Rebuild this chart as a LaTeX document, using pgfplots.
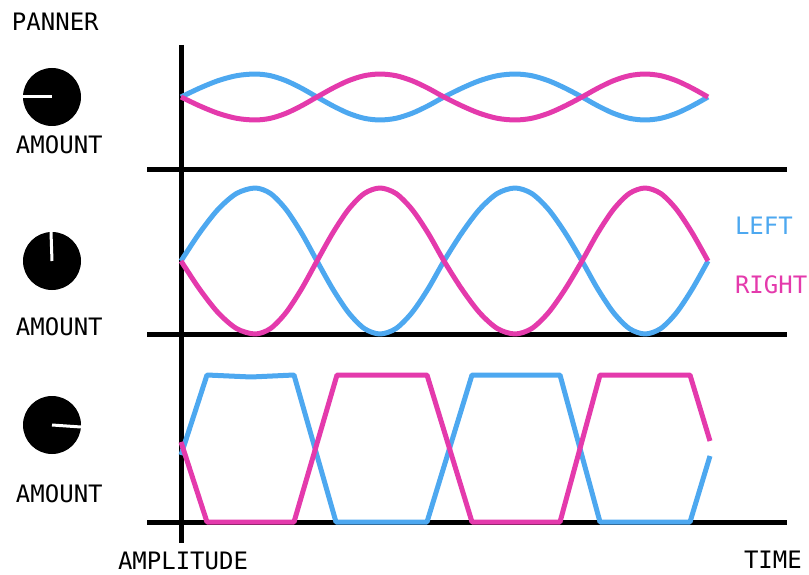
\documentclass[border=0pt]{standalone}
\usepackage{fontspec}
\setmainfont{DejaVu Sans Mono}
\usepackage{pgfplots}
\usepackage{pgfplotstable}
\pgfplotsset{compat=1.18}
\definecolor{lblue}{RGB}{77,168,240}
\definecolor{rpink}{RGB}{228,58,172}

\pgfplotstableread{
x b1 p1 b2 p2
181 97 97 261 261
199.5 88.2 105.8 233.0 289.0
218 80.7 113.3 209.4 312.6
236.5 75.7 118.3 193.5 328.5
255 74 120 188 334
270.5 75.7 118.3 193.5 328.5
286 80.7 113.3 209.4 312.6
301.5 88.2 105.8 233.0 289.0
317 97 97 261 261
332.75 105.8 88.2 289.0 233.0
348.5 113.3 80.7 312.6 209.4
364.25 118.3 75.7 328.5 193.5
380 120 74 334 188
396 118.3 75.7 328.5 193.5
412 113.3 80.7 312.6 209.4
428 105.8 88.2 289.0 233.0
444 97 97 261 261
461.75 88.2 105.8 233.0 289.0
479.5 80.7 113.3 209.4 312.6
497.25 75.7 118.3 193.5 328.5
515 74 120 188 334
531.75 75.7 118.3 193.5 328.5
548.5 80.7 113.3 209.4 312.6
565.25 88.2 105.8 233.0 289.0
582 97 97 261 261
597.75 105.8 88.2 289.0 233.0
613.5 113.3 80.7 312.6 209.4
629.25 118.3 75.7 328.5 193.5
645 120 74 334 188
660.75 118.3 75.7 328.5 193.5
676.5 113.3 80.7 312.6 209.4
692.25 105.8 88.2 289.0 233.0
708 97 97 261 261
}\waves

\pgfplotstableread{
x y
181 455
207 375
251 377
294 375
336 522
427 522
472 375
560 375
600 522
690 522
710 456
}\clipblue

\pgfplotstableread{
x y
181 442
207 522
294 522
337 375
427 375
472 522
560 522
600 375
690 375
710 441
}\clippink

\begin{document}
\begin{tikzpicture}
\begin{axis}[name=ax,
  width=809pt, height=575pt, scale only axis,
  xmin=0, xmax=809, ymin=0, ymax=575, y dir=reverse,
  hide axis, clip=false]
% black axis lines
\draw[black, line width=5pt] (axis cs:181,45) -- (axis cs:181,543);
\draw[black, line width=5pt] (axis cs:147,170) -- (axis cs:787,170);
\draw[black, line width=5pt] (axis cs:147,334) -- (axis cs:787,334);
\draw[black, line width=5pt] (axis cs:147,522) -- (axis cs:787,522);
% waves
\addplot[lblue, line width=5pt, smooth, line join=round] table[x=x, y=b1] {\waves};
\addplot[rpink, line width=5pt, smooth, line join=round] table[x=x, y=p1] {\waves};
\addplot[lblue, line width=5pt, smooth, line join=round] table[x=x, y=b2] {\waves};
\addplot[rpink, line width=5pt, smooth, line join=round] table[x=x, y=p2] {\waves};
\addplot[lblue, line width=5pt, line join=round] table[x=x, y=y] {\clipblue};
\addplot[rpink, line width=5pt, line join=round] table[x=x, y=y] {\clippink};
% knobs
\fill[black] (axis cs:52,97) circle[radius=29pt];
\draw[white, line width=3pt] (axis cs:23,97) -- (axis cs:52,97);
\fill[black] (axis cs:52,261) circle[radius=29pt];
\draw[white, line width=3pt] (axis cs:51,232) -- (axis cs:52,261);
\fill[black] (axis cs:52,425) circle[radius=29pt];
\draw[white, line width=3pt] (axis cs:52,425) -- (axis cs:81,427);
% texts
\tikzset{lab/.style={anchor=base west, inner sep=0pt, outer sep=0pt, font=\fontsize{24}{24}\selectfont}}
\node[lab] at (axis cs:12,31) {PANNER};
\node[lab] at (axis cs:16,154) {AMOUNT};
\node[lab] at (axis cs:16,335) {AMOUNT};
\node[lab] at (axis cs:16,502) {AMOUNT};
\node[lab] at (axis cs:118,569) {AMPLITUDE};
\node[lab] at (axis cs:744,568) {TIME};
\node[lab, text=lblue] at (axis cs:735,234) {LEFT};
\node[lab, text=rpink] at (axis cs:735,293) {RIGHT};
\end{axis}
\pgfresetboundingbox
\path[use as bounding box] (ax.south west) rectangle (ax.north east);
\end{tikzpicture}
\end{document}
